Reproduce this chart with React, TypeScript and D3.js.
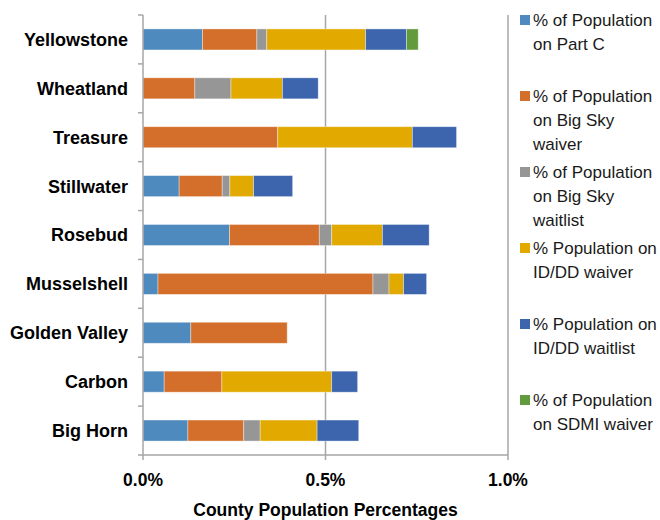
import React, { useEffect, useRef } from 'react';
import * as d3 from 'd3';

const counties = [
  'Yellowstone',
  'Wheatland',
  'Treasure',
  'Stillwater',
  'Rosebud',
  'Musselshell',
  'Golden Valley',
  'Carbon',
  'Big Horn',
];

// values in percent of county population
const partC = [0.163, 0, 0, 0.099, 0.237, 0.041, 0.131, 0.058, 0.123];
const bigSkyWaiver = [0.149, 0.142, 0.369, 0.118, 0.246, 0.589, 0.264, 0.158, 0.153];
const bigSkyWaitlist = [0.027, 0.099, 0, 0.021, 0.034, 0.044, 0, 0, 0.045];
const iddWaiver = [0.271, 0.141, 0.369, 0.065, 0.139, 0.04, 0, 0.301, 0.156];
const iddWaitlist = [0.112, 0.098, 0.121, 0.107, 0.128, 0.063, 0, 0.071, 0.114];
const sdmiWaiver = [0.032, 0, 0, 0, 0, 0, 0, 0, 0];

const seriesKeys = ['partC', 'bigSkyWaiver', 'bigSkyWaitlist', 'iddWaiver', 'iddWaitlist', 'sdmiWaiver'];
const seriesValues = [partC, bigSkyWaiver, bigSkyWaitlist, iddWaiver, iddWaitlist, sdmiWaiver];
const legendLabels = [
  ['% of Population', 'on Part C'],
  ['% of Population', 'on Big Sky', 'waiver'],
  ['% of Population', 'on Big Sky', 'waitlist'],
  ['% Population on', 'ID/DD waiver'],
  ['% Population on', 'ID/DD waitlist'],
  ['% of Population', 'on SDMI waiver'],
];
const colors = ['#4f8abe', '#d46f2b', '#969696', '#e2aa00', '#3c65ae', '#629b3e'];
const xTicks = [0, 0.5, 1.0];

const W = 660;
const H = 520;
const margin = { top: 15, left: 143, right: 152, bottom: 65 };

export default function App() {
  const ref = useRef<SVGSVGElement>(null);

  useEffect(() => {
    if (!ref.current) return;
    const svg = d3.select(ref.current);
    svg.selectAll('*').remove();

    const font = "'Liberation Sans', Arial, sans-serif";
    const innerW = W - margin.left - margin.right;
    const innerH = H - margin.top - margin.bottom;

    const rows = counties.map((c, i) => {
      const r: any = { county: c };
      seriesKeys.forEach((k, j) => (r[k] = seriesValues[j][i]));
      return r;
    });
    const stacked = d3.stack().keys(seriesKeys)(rows);

    const x = d3.scaleLinear().domain([0, 1.0]).range([0, innerW]);
    const y = d3.scaleBand().domain(counties).range([0, innerH]).paddingInner(0.57).paddingOuter(0.285);

    const g = svg.append('g').attr('transform', `translate(${margin.left},${margin.top})`);

    // vertical gridlines
    g.selectAll('line.grid')
      .data(xTicks.slice(1))
      .enter()
      .append('line')
      .attr('x1', (d) => x(d))
      .attr('x2', (d) => x(d))
      .attr('y1', 0)
      .attr('y2', innerH)
      .attr('stroke', '#a6a6a6')
      .attr('stroke-width', 1.5);

    // bars
    g.selectAll('g.series')
      .data(stacked)
      .enter()
      .append('g')
      .attr('fill', (d, i) => colors[i])
      .selectAll('rect')
      .data((d) => d.filter((p) => p[1] - p[0] > 0))
      .enter()
      .append('rect')
      .attr('x', (d) => x(d[0]))
      .attr('y', (d: any) => y(d.data.county)!)
      .attr('width', (d) => x(d[1]) - x(d[0]))
      .attr('height', y.bandwidth())
      .attr('stroke', '#ffffff')
      .attr('stroke-opacity', 0.45)
      .attr('stroke-width', 0.8);

    // y axis
    const step = innerH / counties.length;
    g.append('line')
      .attr('x1', 0).attr('x2', 0).attr('y1', 0).attr('y2', innerH)
      .attr('stroke', '#a6a6a6').attr('stroke-width', 1.5);
    g.selectAll('line.ytick')
      .data(d3.range(counties.length + 1))
      .enter()
      .append('line')
      .attr('x1', -5).attr('x2', 0)
      .attr('y1', (d) => d * step).attr('y2', (d) => d * step)
      .attr('stroke', '#a6a6a6').attr('stroke-width', 1.5);
    g.selectAll('text.ylab')
      .data(counties)
      .enter()
      .append('text')
      .attr('x', -15)
      .attr('y', (d) => y(d)! + y.bandwidth() / 2)
      .attr('dy', '0.36em')
      .attr('text-anchor', 'end')
      .attr('font-family', font)
      .attr('font-weight', 'bold')
      .attr('font-size', 18)
      .attr('fill', '#000')
      .text((d) => d);

    // x axis
    g.append('line')
      .attr('x1', 0).attr('x2', innerW).attr('y1', innerH).attr('y2', innerH)
      .attr('stroke', '#a6a6a6').attr('stroke-width', 1.5);
    g.selectAll('line.xtick')
      .data(xTicks)
      .enter()
      .append('line')
      .attr('x1', (d) => x(d)).attr('x2', (d) => x(d))
      .attr('y1', innerH).attr('y2', innerH + 5)
      .attr('stroke', '#a6a6a6').attr('stroke-width', 1.5);
    g.selectAll('text.xlab')
      .data(xTicks)
      .enter()
      .append('text')
      .attr('x', (d) => x(d))
      .attr('y', innerH + 31)
      .attr('text-anchor', 'middle')
      .attr('font-family', font)
      .attr('font-weight', 'bold')
      .attr('font-size', 17.5)
      .text((d) => d.toFixed(1) + '%');
    g.append('text')
      .attr('x', innerW / 2)
      .attr('y', innerH + 61)
      .attr('text-anchor', 'middle')
      .attr('font-family', font)
      .attr('font-weight', 'bold')
      .attr('font-size', 17.5)
      .text('County Population Percentages');

    // legend
    const legend = svg.append('g').attr('transform', `translate(520, 20)`);
    const items = legend
      .selectAll('g.item')
      .data(legendLabels)
      .enter()
      .append('g')
      .attr('transform', (d, i) => `translate(0, ${i * 76})`);
    items
      .append('rect')
      .attr('x', 0)
      .attr('y', -5)
      .attr('width', 10)
      .attr('height', 10)
      .attr('fill', (d, i) => colors[i]);
    items
      .selectAll('text')
      .data((d) => d)
      .enter()
      .append('text')
      .attr('x', 13)
      .attr('y', (d, i) => i * 24)
      .attr('dy', '0.36em')
      .attr('font-family', font)
      .attr('font-size', 17)
      .attr('fill', '#1a1a1a')
      .text((d) => d);
  }, []);

  return <svg ref={ref} width={W} height={H} style={{ position: 'absolute', left: 0, top: 0, background: '#fff' }}></svg>;
}
